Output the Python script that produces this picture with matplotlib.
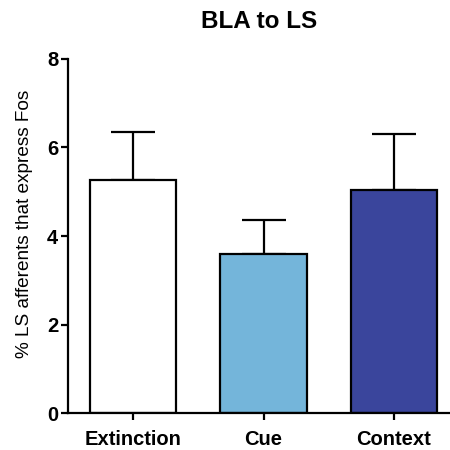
import numpy as np
import matplotlib.pyplot as plt

plt.rcParams['font.family'] = ['Liberation Sans', 'DejaVu Sans']

groups = ['Extinction', 'Cue', 'Context']
means = [5.27, 3.59, 5.04]
sem = [1.07, 0.77, 1.27]
colors = ['#ffffff', '#74b5da', '#3a459c']

fig = plt.figure(figsize=(4.5, 4.5), dpi=100)
ax = fig.add_axes([0.151, 0.082, 0.849, 0.787])

x = np.arange(len(groups))
ax.bar(x, means, width=0.663, color=colors, edgecolor='black', linewidth=1.6, zorder=2)
ax.errorbar(x, means, yerr=[np.zeros(len(sem)), sem], fmt='none', ecolor='black',
            elinewidth=1.6, capsize=16, capthick=1.6, zorder=1)

ax.set_xlim(-0.5, 2.43)
ax.set_ylim(0, 8)
ax.set_yticks([0, 2, 4, 6, 8])
ax.set_xticks(x)
ax.set_xticklabels(groups, fontsize=14.5, fontweight='bold')
for lab in ax.get_yticklabels():
    lab.set_fontsize(14.5)
    lab.set_fontweight('bold')
ax.tick_params(direction='out', length=5, width=1.6, pad=2)
ax.tick_params(axis='x', pad=7)
ax.spines['top'].set_visible(False)
ax.spines['right'].set_visible(False)
ax.spines['left'].set_linewidth(1.6)
ax.spines['bottom'].set_linewidth(1.6)
ax.set_ylabel('% LS afferents that express Fos', fontsize=13.7)
ax.yaxis.set_label_coords(-0.092, 0.535)
ax.set_title('BLA to LS', fontsize=17.5, fontweight='bold', pad=22)

fig.savefig('out.png', dpi=100)
